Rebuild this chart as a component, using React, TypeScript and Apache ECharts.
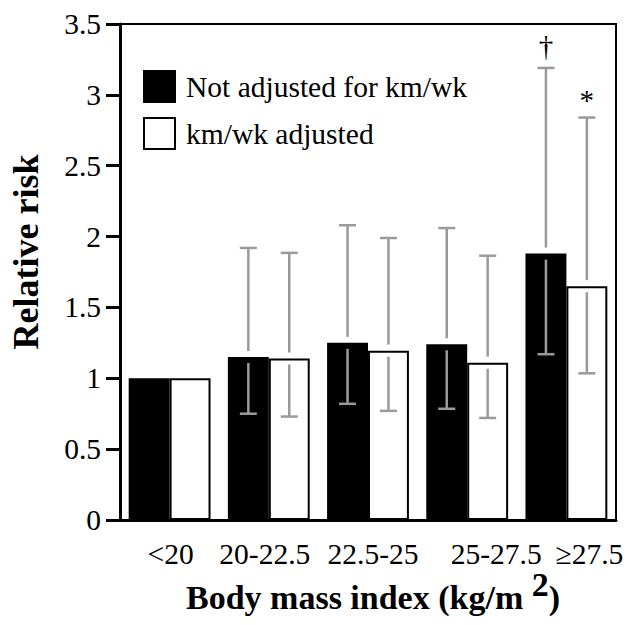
import React, { useEffect, useRef } from "react";
import * as echarts from "echarts";

// ---- data ----
const categories = ["<20", "20-22.5", "22.5-25", "25-27.5", "≥27.5"];
const seriesNames = ["Not adjusted for km/wk", "km/wk adjusted"];
const notAdjusted = [1.0, 1.15, 1.25, 1.24, 1.88];
const notAdjustedLow = [null, 0.75, 0.82, 0.785, 1.17];
const notAdjustedHigh = [null, 1.92, 2.08, 2.06, 3.19];
const adjusted = [1.0, 1.14, 1.195, 1.11, 1.65];
const adjustedLow = [null, 0.73, 0.77, 0.72, 1.035];
const adjustedHigh = [null, 1.885, 1.99, 1.865, 2.84];
const notAdjustedMarks = ["", "", "", "", "†"];
const adjustedMarks = ["", "", "", "", "*"];

// ---- layout / style constants ----
const FONT = "Liberation Serif";
const GRAY = "#9a9a9a";
const CAT_GAP = 0.175;
const LABEL_NUDGE = [1, -4, 5, 29, 23];

function errData(vals: number[], lows: (number | null)[], highs: (number | null)[]) {
  const out: number[][] = [];
  vals.forEach((v, i) => {
    const lo = lows[i];
    const hi = highs[i];
    if (lo != null && hi != null) out.push([i, v, lo, hi]);
  });
  return out;
}

function makeRender(side: number, marks: string[], markLift: number) {
  return (_params: any, api: any) => {
    const i = api.value(0);
    const v = api.value(1);
    const lo = api.value(2);
    const hi = api.value(3);
    const band = api.size([1, 0])[0];
    const barW = (band * (1 - CAT_GAP)) / 2;
    const pv = api.coord([i, v]);
    const cx = pv[0] + (side * barW) / 2;
    const yv = pv[1];
    const yl = api.coord([i, lo])[1];
    const yh = api.coord([i, hi])[1];
    const gap = 6;
    const cap = 8.5;
    const st = { stroke: GRAY, lineWidth: 2.5 };
    const children: any[] = [
      { type: "line", shape: { x1: cx, y1: yh, x2: cx, y2: yv - gap }, style: st },
      { type: "line", shape: { x1: cx - cap, y1: yh, x2: cx + cap, y2: yh }, style: st },
      { type: "line", shape: { x1: cx, y1: yv + gap, x2: cx, y2: yl }, style: st },
      { type: "line", shape: { x1: cx - cap, y1: yl, x2: cx + cap, y2: yl }, style: st },
    ];
    const mark = marks[i];
    if (mark) {
      children.push({
        type: "text",
        x: cx,
        y: yh - markLift,
        style: {
          text: mark,
          fontSize: 29,
          fontFamily: FONT,
          fill: "#000",
          align: "center",
          verticalAlign: "bottom",
        },
      });
    }
    return { type: "group", children };
  };
}

export default function App() {
  const ref = useRef<HTMLDivElement>(null);
  useEffect(() => {
    if (!ref.current) return;
    const chart = echarts.init(ref.current, undefined, { renderer: "svg" });
    chart.setOption({
      animation: false,
      backgroundColor: "#fff",
      textStyle: { fontFamily: FONT },
      grid: {
        left: 119,
        right: 18,
        top: 24,
        bottom: 105,
        show: true,
        borderColor: "#000",
        borderWidth: 2,
        backgroundColor: "transparent",
      },
      legend: {
        orient: "vertical",
        left: 143,
        top: 70,
        padding: 0,
        itemWidth: 31,
        itemHeight: 31,
        itemGap: 14,
        icon: "rect",
        data: seriesNames,
        textStyle: { fontSize: 29.5, fontFamily: FONT, color: "#000", padding: [0, 0, 0, 6] },
      },
      xAxis: {
        type: "category",
        data: categories.map((c, i) => ({
          value: c,
          textStyle: {
            padding: LABEL_NUDGE[i] >= 0 ? [0, 0, 0, 2 * LABEL_NUDGE[i]] : [0, -2 * LABEL_NUDGE[i], 0, 0],
          },
        })),
        axisLine: { lineStyle: { color: "#000", width: 3 } },
        axisTick: { alignWithLabel: true, length: 13, lineStyle: { color: "#000", width: 3 } },
        axisLabel: { interval: 0, fontSize: 29.5, fontFamily: FONT, color: "#000", margin: 19, hideOverlap: false },
        name: "Body mass index (kg/m {sup|2})",
        nameLocation: "middle",
        nameGap: 47,
        nameMoveOverlap: false,
        nameTextStyle: {
          fontSize: 34,
          fontWeight: "bold",
          fontFamily: FONT,
          color: "#000",
          padding: [0, 0, 0, 10],
          rich: {
            sup: { fontSize: 34, fontWeight: "bold", fontFamily: FONT, color: "#000", padding: [0, 0, 26, 0] },
          },
        },
      },
      yAxis: {
        type: "value",
        min: 0,
        max: 3.5,
        interval: 0.5,
        splitLine: { show: false },
        axisLine: { show: true, lineStyle: { color: "#000", width: 3 } },
        axisTick: { show: true, length: 14, lineStyle: { color: "#000", width: 3 } },
        axisLabel: { fontSize: 29.5, fontFamily: FONT, color: "#000", margin: 19 },
        name: "Relative risk",
        nameLocation: "middle",
        nameGap: 76,
        nameTextStyle: {
          fontSize: 36,
          fontWeight: "bold",
          fontFamily: FONT,
          color: "#000",
          padding: [0, 0, 0, 40],
        },
      },
      series: [
        {
          type: "bar",
          name: seriesNames[0],
          data: notAdjusted,
          barGap: "0%",
          barCategoryGap: CAT_GAP * 100 + "%",
          itemStyle: { color: "#000", borderColor: "#000", borderWidth: 2 },
        },
        {
          type: "bar",
          name: seriesNames[1],
          data: adjusted,
          barGap: "0%",
          barCategoryGap: CAT_GAP * 100 + "%",
          itemStyle: { color: "#fff", borderColor: "#000", borderWidth: 2 },
        },
        {
          type: "custom",
          name: "err0",
          data: errData(notAdjusted, notAdjustedLow, notAdjustedHigh),
          encode: { x: 0, y: 1 },
          renderItem: makeRender(-1, notAdjustedMarks, 7),
          z: 5,
          clip: false,
        },
        {
          type: "custom",
          name: "err1",
          data: errData(adjusted, adjustedLow, adjustedHigh),
          encode: { x: 0, y: 1 },
          renderItem: makeRender(1, adjustedMarks, 3),
          z: 5,
          clip: false,
        },
      ],
    });
    return () => chart.dispose();
  }, []);
  return (
    <div
      ref={ref}
      style={{ position: "fixed", left: 0, top: 0, width: 634, height: 625, background: "#fff" }}
    />
  );
}
